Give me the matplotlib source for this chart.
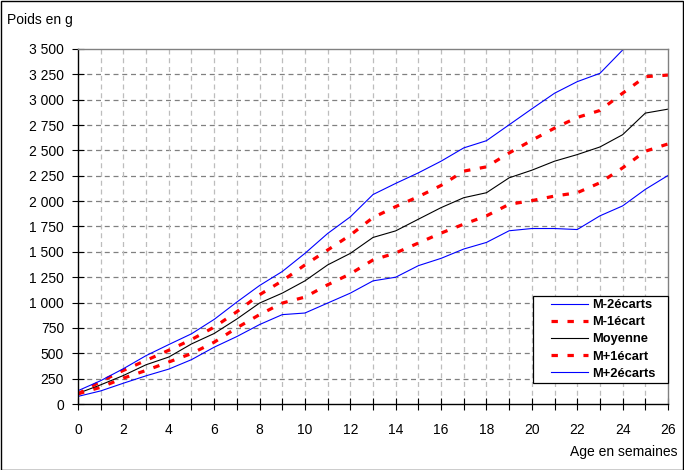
import matplotlib
matplotlib.use("Agg")
import matplotlib.pyplot as plt
from matplotlib.ticker import FuncFormatter, MultipleLocator
from matplotlib.patches import Rectangle

plt.rcParams['font.family'] = ['Liberation Sans', 'DejaVu Sans']

weeks = list(range(0, 27))
m_moins2 = [75, 129, 205, 278, 344, 437, 560, 665, 783, 881, 897, 995, 1093, 1214,
            1250, 1364, 1436, 1528, 1593, 1708, 1730, 1730, 1720, 1855, 1953, 2116, 2253]
m_moins1 = [100, 165, 255, 331, 414, 497, 609, 751, 881, 995, 1054, 1175, 1283, 1420,
            1489, 1587, 1685, 1773, 1855, 1969, 2005, 2050, 2083, 2181, 2328, 2492, 2564]
moyenne = [105, 189, 281, 387, 463, 592, 695, 838, 995, 1093, 1214, 1371, 1485, 1642,
           1707, 1822, 1936, 2034, 2083, 2230, 2305, 2394, 2459, 2534, 2655, 2868, 2907]
m_plus1 = [100, 222, 331, 430, 530, 635, 758, 910, 1077, 1214, 1371, 1518, 1665, 1838,
           1946, 2044, 2155, 2296, 2338, 2475, 2600, 2720, 2825, 2894, 3064, 3227, 3243]
m_plus2 = [131, 230, 348, 477, 586, 692, 834, 1005, 1168, 1306, 1485, 1681, 1845, 2065,
           2175, 2279, 2394, 2525, 2596, 2753, 2910, 3064, 3178, 3260, 3490, 3700, 3900]

labels = ["M-2écarts", "M-1écart", "Moyenne", "M+1écart", "M+2écarts"]

W, H = 684, 470
fig = plt.figure(figsize=(W / 100, H / 100), dpi=100)
AX_L, AX_R, AX_B, AX_T = 78, 668, 404, 49
ax = fig.add_axes([AX_L / W, 1 - AX_B / H, (AX_R - AX_L) / W, (AX_B - AX_T) / H])

red_dash = (0, (2, 3))
ax.plot(weeks, m_moins2, color='#0000FF', lw=0.8, label=labels[0])
ax.plot(weeks, m_moins1, color='#FF0000', lw=2.3, linestyle=red_dash, label=labels[1])
ax.plot(weeks, moyenne, color='black', lw=0.8, label=labels[2])
ax.plot(weeks, m_plus1, color='#FF0000', lw=2.3, linestyle=red_dash, label=labels[3])
ax.plot(weeks, m_plus2, color='#0000FF', lw=0.8, label=labels[4])

ax.set_xlim(0, 26)
ax.set_ylim(0, 3500)
ax.xaxis.set_major_locator(MultipleLocator(2))
ax.xaxis.set_minor_locator(MultipleLocator(1))
ax.yaxis.set_major_locator(MultipleLocator(250))

def fmt(v, pos):
    return f"{int(round(v)):,}".replace(",", " ")
ax.yaxis.set_major_formatter(FuncFormatter(fmt))

ax.tick_params(axis='both', which='both', direction='inout', color='black', width=0.8)
ax.tick_params(axis='y', which='major', length=8, pad=6, labelsize=10)
ax.tick_params(axis='x', which='major', length=8, pad=10, labelsize=10)
ax.tick_params(axis='x', which='minor', length=8)

# grid
for yv in range(250, 3500, 250):
    ax.axhline(yv, color='#808080', lw=0.9, linestyle=(0, (4, 3)), zorder=0)
for xv in range(1, 26):
    ax.axvline(xv, color='#BDBDBD', lw=0.9, linestyle=(0, (4, 3)), zorder=0)

for side in ['top', 'right']:
    ax.spines[side].set_color('#808080')
    ax.spines[side].set_linewidth(1.0)
for side in ['left', 'bottom']:
    ax.spines[side].set_color('black')
    ax.spines[side].set_linewidth(1.0)

# legend box drawn explicitly (wider horizontal padding, as in reference)
def ax_xy(px, py):
    return ((px - AX_L) / (AX_R - AX_L), (AX_B - py) / (AX_B - AX_T))

bx0, by0 = ax_xy(533, 383)
bx1, by1 = ax_xy(668, 296)
ax.add_patch(Rectangle((bx0, by0), bx1 - bx0, by1 - by0, transform=ax.transAxes,
                       facecolor='white', edgecolor='black', lw=0.9, zorder=4,
                       clip_on=False))

lx, ly = ax_xy(551, 299)
leg = ax.legend(loc='upper left', bbox_to_anchor=(lx, ly), borderaxespad=0,
                borderpad=0, prop={'weight': 'bold', 'size': 9.3}, handlelength=2.9,
                handletextpad=0.3, labelspacing=0.4, frameon=False)
leg.set_zorder(5)

fig.text(7 / W, 1 - 20 / H, "Poids en g", ha='left', va='center', fontsize=10)
fig.text(677 / W, 1 - 452 / H, "Age en semaines", ha='right', va='center', fontsize=10)

fig.patches.append(Rectangle((0.5 / W, 0.5 / H), (W - 1.5) / W, (H - 1.5) / H,
                             transform=fig.transFigure, fill=False,
                             edgecolor='black', lw=1.0))

fig.savefig("out.png", dpi=100)
